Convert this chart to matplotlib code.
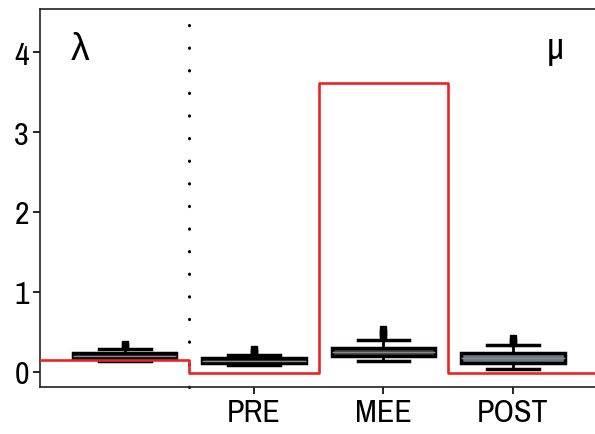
import matplotlib

matplotlib.use("Agg")
import matplotlib.pyplot as plt
from matplotlib import font_manager

# prefer a narrow sans face, the reference uses a condensed Helvetica
narrow = sorted(
    {f.name for f in font_manager.fontManager.ttflist
     if "Narrow" in f.name or "Condensed" in f.name}
)
family = narrow[:1] + ["Liberation Sans", "DejaVu Sans"]
plt.rcParams["font.family"] = family

# box statistics
groups = ["λ", "PRE", "MEE", "POST"]
positions = [0, 1, 2, 3]
q1 = [0.175, 0.11, 0.20, 0.11]
med = [0.20, 0.14, 0.25, 0.17]
q3 = [0.24, 0.17, 0.30, 0.23]
whislo = [0.13, 0.08, 0.14, 0.04]
whishi = [0.29, 0.21, 0.40, 0.33]
fliers = [[0.32, 0.35], [0.23, 0.26, 0.29], [0.43, 0.47, 0.50, 0.53], [0.36, 0.39, 0.42]]
box_colors = ["#222222", "#222222", "#3c4246", "#6c7a86"]

# true value (red step line)
step_x = [-0.7, 0.5, 0.5, 1.5, 1.5, 2.5, 2.5, 3.7]
step_y = [0.15, 0.15, -0.02, -0.02, 3.62, 3.62, -0.02, -0.02]

xtick_pos = [1, 2, 3]
xtick_labels = ["PRE", "MEE", "POST"]
yticks = [0, 1, 2, 3, 4]

fig = plt.figure(figsize=(5.95, 4.35), dpi=100)
ax = fig.add_axes([0.067, 0.108, 0.945, 0.869])

stats = []
for i in range(len(groups)):
    stats.append(
        dict(med=med[i], q1=q1[i], q3=q3[i], whislo=whislo[i], whishi=whishi[i], fliers=fliers[i])
    )
bp = ax.bxp(
    stats,
    positions=positions,
    widths=0.8,
    patch_artist=True,
    boxprops=dict(linewidth=2.5, edgecolor="black"),
    medianprops=dict(color="#888888", linewidth=1),
    whiskerprops=dict(color="black", linewidth=2),
    capprops=dict(color="black", linewidth=2.5),
    capwidths=0.4,
    flierprops=dict(marker="s", markerfacecolor="black", markeredgecolor="black", markersize=5),
    zorder=3,
)
for patch, c in zip(bp["boxes"], box_colors):
    patch.set_facecolor(c)

ax.plot(step_x, step_y, color="#ee2222", linewidth=1.9, zorder=4)
ax.plot([0.5, 0.5], [-0.19, 4.5], color="black", linewidth=2.2,
        linestyle=(0, (0.1, 7.3)), dash_capstyle="round", zorder=2, clip_on=False)

ax.text(0.071, 0.94, "λ", transform=ax.transAxes, fontsize=27, va="top", ha="center")
ax.text(0.916, 0.94, "μ", transform=ax.transAxes, fontsize=27, va="top", ha="center")

ax.set_xlim(-0.655, 3.69)
ax.set_ylim(-0.19, 4.54)
ax.set_yticks(yticks)
ax.set_xticks(xtick_pos)
ax.set_xticklabels(xtick_labels)
lab = 23 if narrow else 18
ax.tick_params(axis="both", labelsize=lab, length=5, width=1.2, direction="out", pad=3)
for s in ax.spines.values():
    s.set_linewidth(1.2)
    s.set_color("#222222")
ax.spines["right"].set_visible(False)

fig.savefig("out.png", dpi=100)
